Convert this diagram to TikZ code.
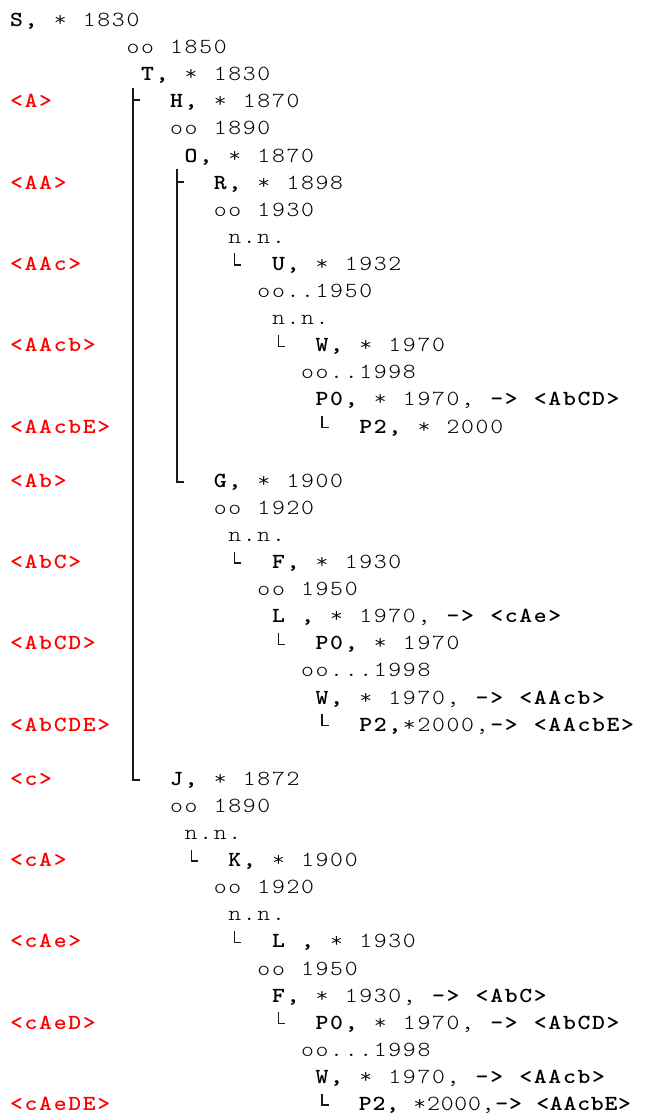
\documentclass[tikz,border=0pt]{standalone}
\usepackage{fontspec}
\newfontfamily\lmm{lmmonolt10}[Extension=.otf,UprightFont=*-regular,BoldFont=*-bold,FakeStretch=1.14]
\newlength\cw
\setlength\cw{14.55pt}
\makeatletter
\def\mt#1{\mt@loop#1\mt@end}
\def\mt@end{\mt@end}
\def\mt@loop#1{\ifx#1\mt@end\else\makebox[\cw][c]{#1}\expandafter\mt@loop\fi}
\makeatother
\newcommand\bb[1]{{\bfseries\mt{#1}}}
\tikzset{
  txt/.style={anchor=base west, inner sep=0pt, outer sep=0pt, text=black,
    font=\lmm\fontsize{21.5pt}{25pt}\selectfont},
  lab/.style={txt, text=red},
  tree/.style={line width=1.8pt, draw=black!90},
  small/.style={line width=1.3pt, draw=black!90}
}
% text node: name, column, row, content
\newcommand\T[4]{\node[txt] (#1) at ({9.3+14.55*(#2)},{-26.5-27.1*((#3)-1)}) {#4};}
% red label: name, row, text
\newcommand\Lb[3]{\node[lab] (#1) at ({9.3},{-26.5-27.1*((#2)-1)}) {\bb{#3}};}
% coordinate: name, column, dx, row, dy
\newcommand\CO[5]{\coordinate (#1) at ({16.575+14.55*(#2)+(#3)},{-26.5-27.1*((#4)-1)+(#5)});}
% small corner mark: name, column, row
\newcommand\SL[3]{\CO{#1t}{#2}{0}{#3}{17}\CO{#1b}{#2}{0}{#3}{5.5}\CO{#1f}{#2}{6.5}{#3}{5.5}\draw[small] (#1t) -- (#1b) -- (#1f);}
\begin{document}
\begin{tikzpicture}[x=1pt,y=1pt]
\fill[white] (0,0) rectangle (647,-1117);
\useasboundingbox (0,0) rectangle (647,-1117);
% labels
\Lb{l4}{4}{<A>}
\Lb{l7}{7}{<AA>}
\Lb{l10}{10}{<AAc>}
\Lb{l13}{13}{<AAcb>}
\Lb{l16}{16}{<AAcbE>}
\Lb{l18}{18}{<Ab>}
\Lb{l21}{21}{<AbC>}
\Lb{l24}{24}{<AbCD>}
\Lb{l27}{27}{<AbCDE>}
\Lb{l29}{29}{<c>}
\Lb{l32}{32}{<cA>}
\Lb{l35}{35}{<cAe>}
\Lb{l38}{38}{<cAeD>}
\Lb{l41}{41}{<cAeDE>}
% rows
\T{r1}{0}{1}{\bb{S,}\mt{~*~1830}}
\T{r2}{8}{2}{\mt{oo~1850}}
\T{r3}{9}{3}{\bb{T,}\mt{~*~1830}}
\T{r4}{11}{4}{\bb{H,}\mt{~*~1870}}
\T{r5}{11}{5}{\mt{oo~1890}}
\T{r6}{12}{6}{\bb{O,}\mt{~*~1870}}
\T{r7}{14}{7}{\bb{R,}\mt{~*~1898}}
\T{r8}{14}{8}{\mt{oo~1930}}
\T{r9}{15}{9}{\mt{n.n.}}
\T{r10}{18}{10}{\bb{U,}\mt{~*~1932}}
\T{r11}{17}{11}{\mt{oo..1950}}
\T{r12}{18}{12}{\mt{n.n.}}
\T{r13}{21}{13}{\bb{W,}\mt{~*~1970}}
\T{r14}{20}{14}{\mt{oo..1998}}
\T{r15}{21}{15}{\bb{P0,}\mt{~*~1970,~}\bb{->~<AbCD>}}
\T{r16}{24}{16}{\bb{P2,}\mt{~*~2000}}
\T{r18}{14}{18}{\bb{G,}\mt{~*~1900}}
\T{r19}{14}{19}{\mt{oo~1920}}
\T{r20}{15}{20}{\mt{n.n.}}
\T{r21}{18}{21}{\bb{F,}\mt{~*~1930}}
\T{r22}{17}{22}{\mt{oo~1950}}
\T{r23}{18}{23}{\bb{L~,}\mt{~*~1970,~}\bb{->~<cAe>}}
\T{r24}{21}{24}{\bb{P0,}\mt{~*~1970}}
\T{r25}{20}{25}{\mt{oo...1998}}
\T{r26}{21}{26}{\bb{W,}\mt{~*~1970,~}\bb{->~<AAcb>}}
\T{r27}{24}{27}{\bb{P2,}\mt{*2000,}\bb{->~<AAcbE>}}
\T{r29}{11}{29}{\bb{J,}\mt{~*~1872}}
\T{r30}{11}{30}{\mt{oo~1890}}
\T{r31}{12}{31}{\mt{n.n.}}
\T{r32}{15}{32}{\bb{K,}\mt{~*~1900}}
\T{r33}{14}{33}{\mt{oo~1920}}
\T{r34}{15}{34}{\mt{n.n.}}
\T{r35}{18}{35}{\bb{L~,}\mt{~*~1930}}
\T{r36}{17}{36}{\mt{oo~1950}}
\T{r37}{18}{37}{\bb{F,}\mt{~*~1930,~}\bb{->~<AbC>}}
\T{r38}{21}{38}{\bb{P0,}\mt{~*~1970,~}\bb{->~<AbCD>}}
\T{r39}{20}{39}{\mt{oo...1998}}
\T{r40}{21}{40}{\bb{W,}\mt{~*~1970,~}\bb{->~<AAcb>}}
\T{r41}{24}{41}{\setlength\cw{13.65pt}\bb{P2,}\mt{~*2000,}\bb{->~<AAcbE>}}
% main tree lines
\CO{a0}{8}{0}{4}{20}\CO{a4}{8}{0}{4}{7.5}\CO{a4t}{8}{7}{4}{7.5}
\CO{a29}{8}{0}{29}{5}\CO{a29f}{8}{7}{29}{5}
\draw[tree] (a0) -- (a29) -- (a29f);
\draw[tree] (a4) -- (a4t);
\CO{b0}{11}{0}{7}{20}\CO{b7}{11}{0}{7}{7.5}\CO{b7t}{11}{7}{7}{7.5}
\CO{b18}{11}{0}{18}{5}\CO{b18f}{11}{7}{18}{5}
\draw[tree] (b0) -- (b18) -- (b18f);
\draw[tree] (b7) -- (b7t);
% small corner marks
\SL{s10}{15}{10}
\SL{s13}{18}{13}
\SL{s16}{21}{16}
\SL{s21}{15}{21}
\SL{s24}{18}{24}
\SL{s27}{21}{27}
\SL{s32}{12}{32}
\SL{s35}{15}{35}
\SL{s38}{18}{38}
\SL{s41}{21}{41}
\end{tikzpicture}
\end{document}
